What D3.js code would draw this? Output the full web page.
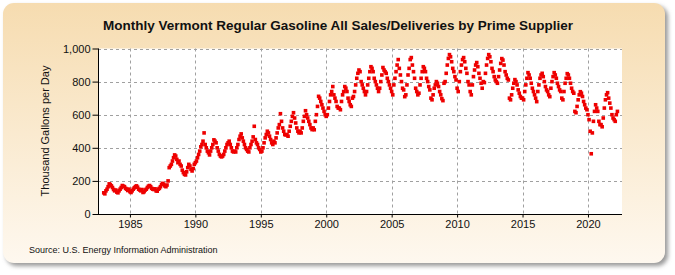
<!doctype html>
<html lang="en">
  <head>
    <meta charset="utf-8">
    <title>Monthly Vermont Regular Gasoline</title>
    <script src="https://d3js.org/d3.v7.min.js"></script>
    <style>
    body { margin: 0; background: #fff; }
    text { font-family: "Liberation Sans", Arial, sans-serif; fill: #111; }
    .grid line { stroke: #a0a0a0; stroke-dasharray: 3,3; }
    </style>
  </head>
  <body>
    <svg width="675" height="275"></svg>
    <script>
      var startYear = 1983;
      // monthly values, thousand gallons per day, one row per year (Jan..Dec)
      var v1983 = [128,122,140,150,165,182,178,170,160,148,140,145];
      var v1984 = [132,128,140,150,160,172,168,165,155,150,142,150];
      var v1985 = [135,130,140,150,158,165,170,162,150,145,140,148];
      var v1986 = [130,135,145,150,160,168,172,165,155,150,148,152];
      var v1987 = [140,138,150,155,165,178,185,180,170,165,175,200];
      var v1988 = [280,290,300,320,340,357,350,330,310,320,300,290];
      var v1989 = [265,250,240,236,255,280,300,290,270,260,275,300];
      var v1990 = [310,320,340,360,380,406,420,440,490,420,400,380];
      var v1991 = [370,357,380,400,420,448,440,430,400,380,360,350];
      var v1992 = [345,350,360,380,400,420,430,440,420,400,380,375];
      var v1993 = [380,375,400,420,450,470,484,460,440,420,400,390];
      var v1994 = [380,375,400,420,440,466,530,450,430,420,400,390];
      var v1995 = [375,380,400,430,460,480,500,490,470,450,430,420];
      var v1996 = [440,430,460,490,520,540,606,560,520,500,480,478];
      var v1997 = [480,470,500,530,560,590,612,580,550,520,500,490];
      var v1998 = [500,490,520,560,590,624,600,580,560,540,520,510];
      var v1999 = [520,509,560,600,650,711,700,680,660,640,620,600];
      var v2000 = [590,600,640,680,720,740,770,720,700,680,650,640];
      var v2001 = [640,630,680,720,740,770,760,740,700,680,660,650];
      var v2002 = [700,710,740,780,820,850,870,860,800,780,760,740];
      var v2003 = [720,740,780,820,860,890,880,860,820,800,780,760];
      var v2004 = [740,760,800,840,885,870,860,850,820,800,780,760];
      var v2005 = [740,720,780,820,860,900,933,880,840,800,760,750];
      var v2006 = [709,720,780,840,880,933,945,900,860,820,760,740];
      var v2007 = [720,730,780,820,860,890,880,860,820,800,770,750];
      var v2008 = [700,690,720,760,780,800,790,770,740,720,697,685];
      var v2009 = [790,800,850,900,940,963,950,920,880,860,830,810];
      var v2010 = [760,740,800,860,900,933,945,920,880,850,800,780];
      var v2011 = [740,720,780,830,870,900,915,890,850,820,790,760];
      var v2012 = [800,794,850,900,940,963,950,920,880,860,830,810];
      var v2013 = [800,790,830,870,910,939,930,900,860,840,820,810];
      var v2014 = [700,690,720,760,790,812,800,780,750,730,710,700];
      var v2015 = [700,690,740,780,820,854,840,820,790,760,740,720];
      var v2016 = [700,679,740,780,820,840,850,830,800,770,750,740];
      var v2017 = [720,709,760,800,830,854,840,820,790,770,750,740];
      var v2018 = [700,690,740,790,820,848,840,820,790,760,740,730];
      var v2019 = [620,612,650,690,720,739,730,710,680,660,640,630];
      var v2020 = [600,570,500,364,490,560,620,660,640,620,560,540];
      var v2021 = [540,527,580,640,690,720,733,700,670,640,600,580];
      var v2022 = [570,560,600,620];

      var yearRows = [v1983,v1984,v1985,v1986,v1987,v1988,v1989,v1990,v1991,v1992,
        v1993,v1994,v1995,v1996,v1997,v1998,v1999,v2000,v2001,v2002,v2003,v2004,
        v2005,v2006,v2007,v2008,v2009,v2010,v2011,v2012,v2013,v2014,v2015,v2016,
        v2017,v2018,v2019,v2020,v2021,v2022];

      var yTicks = [0, 200, 400, 600, 800, 1000];
      var xTicks = [1985, 1990, 1995, 2000, 2005, 2010, 2015, 2020];

      var data = [];
      yearRows.forEach(function(row, i){
        row.forEach(function(val, m){
          data.push({ t: startYear + i + m / 12, value: val });
        });
      });

      var svg = d3.select('svg');

      // panel background
      var defs = svg.append('defs');
      var grad = defs.append('linearGradient').attr('id', 'bg')
        .attr('x1', 0).attr('y1', 0).attr('x2', 0).attr('y2', 1);
      grad.append('stop').attr('offset', '0%').attr('stop-color', '#f6dcb0');
      grad.append('stop').attr('offset', '100%').attr('stop-color', '#fef8ef');
      var blur = defs.append('filter').attr('id', 'shadow')
        .attr('x', '-5%').attr('y', '-5%').attr('width', '115%').attr('height', '120%');
      blur.append('feGaussianBlur').attr('stdDeviation', 2);

      svg.append('rect')
        .attr('x', 6).attr('y', 6).attr('width', 662).attr('height', 260)
        .attr('rx', 11).attr('fill', '#9a9a9a').attr('filter', 'url(#shadow)');
      svg.append('rect')
        .attr('x', 3).attr('y', 3).attr('width', 662).attr('height', 260)
        .attr('rx', 11).attr('fill', 'url(#bg)');

      // plot box (avoid the name "top": it is window.top)
      var plotL = 98, plotR = 622, plotT = 48.5, plotB = 214;

      svg.append('rect')
        .attr('x', plotL).attr('y', plotT).attr('width', plotR - plotL).attr('height', plotB - plotT)
        .attr('fill', '#fff');

      var x = d3.scaleLinear().domain([1982.56, 2022.6]).range([plotL, plotR]);
      var y = d3.scaleLinear().domain([0, 1000]).range([plotB, plotT]);

      // grid
      var grid = svg.append('g').attr('class', 'grid');
      grid.selectAll('.h').data(yTicks.slice(1)).enter().append('line')
        .attr('x1', plotL).attr('x2', plotR)
        .attr('y1', function(d){ return Math.round(y(d)) + 0.5; })
        .attr('y2', function(d){ return Math.round(y(d)) + 0.5; });
      grid.selectAll('.v').data(xTicks).enter().append('line')
        .attr('y1', plotT).attr('y2', plotB)
        .attr('x1', function(d){ return Math.round(x(d)) + 0.5; })
        .attr('x2', function(d){ return Math.round(x(d)) + 0.5; });

      // points
      svg.append('g').selectAll('rect').data(data).enter().append('rect')
        .attr('x', function(d){ return x(d.t) - 1.8; })
        .attr('y', function(d){ return y(d.value) - 1.8; })
        .attr('width', 3.6).attr('height', 3.6)
        .attr('fill', '#ee0000');

      // axes
      var yAxis = d3.axisLeft(y).tickValues(yTicks).tickSize(6).tickPadding(2)
        .tickFormat(d3.format(','));
      var gy = svg.append('g').attr('transform', 'translate(' + (plotL + 0.5) + ',0)').call(yAxis);
      gy.select('.domain').remove();
      gy.selectAll('text').style('font-size', '11px').attr('fill', '#111');
      svg.append('line').attr('x1', plotL + 0.5).attr('x2', plotL + 0.5)
        .attr('y1', plotT).attr('y2', plotB).attr('stroke', '#000');

      var xAxis = d3.axisBottom(x).tickValues(xTicks).tickSize(3).tickPadding(3)
        .tickFormat(d3.format('d'));
      var gx = svg.append('g').attr('transform', 'translate(0,' + (plotB + 0.5) + ')').call(xAxis);
      gx.select('.domain').remove();
      gx.selectAll('text').style('font-size', '11px').attr('fill', '#111');
      svg.append('line').attr('x1', plotL).attr('x2', plotR)
        .attr('y1', plotB + 0.5).attr('y2', plotB + 0.5).attr('stroke', '#000');

      // texts
      svg.append('text').attr('x', 338).attr('y', 30).attr('text-anchor', 'middle')
        .style('font-size', '13.5px').style('font-weight', 'bold')
        .text('Monthly Vermont Regular Gasoline All Sales/Deliveries by Prime Supplier');

      svg.append('text').attr('transform', 'translate(49,131) rotate(-90)')
        .attr('text-anchor', 'middle').style('font-size', '11px')
        .text('Thousand Gallons per Day');

      svg.append('text').attr('x', 29).attr('y', 253).style('font-size', '9px')
        .text('Source: U.S. Energy Information Administration');
    </script>
  </body>
</html>
